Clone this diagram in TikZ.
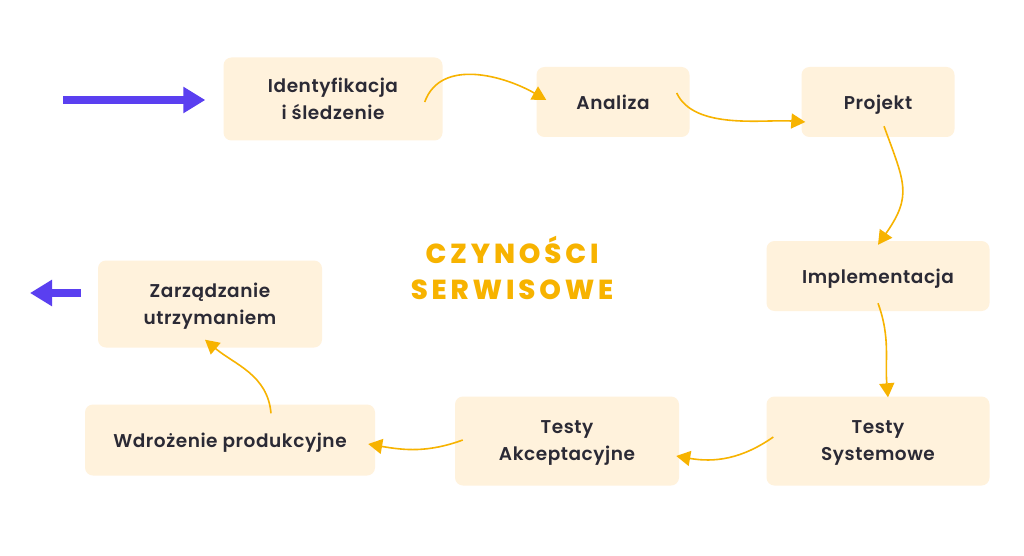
\documentclass[tikz,border=0pt]{standalone}
\usepackage{fontspec}
\setmainfont{Poppins}
\newfontfamily\boxfont{Poppins SemiBold}[LetterSpace=3]
\newfontfamily\titlefont{Poppins ExtraBold}[LetterSpace=14]
\usetikzlibrary{arrows.meta, positioning, calc}
\definecolor{boxfill}{HTML}{FFF2DC}
\definecolor{inkdark}{HTML}{2B2A35}
\definecolor{amber}{HTML}{F7B300}
\definecolor{violet}{HTML}{5A3FF0}

\begin{document}
\begin{tikzpicture}[
  x=1pt, y=1pt,
  >={Triangle[length=14pt, width=15pt]},
  stagebox/.style={fill=boxfill, rounded corners=8pt, text=inkdark,
    font=\boxfont\fontsize{18.5}{27}\selectfont, align=center, inner sep=0pt,
    text depth=0pt},
  flow/.style={draw=amber, line width=1.6pt, ->},
  bigarrow/.style={draw=violet, line width=8pt,
    -{Triangle[length=22pt, width=25pt]}},
]

% Background
\fill[white] (0,0) rectangle (1024,-556);
\useasboundingbox (0,0) rectangle (1024,-556);

% Title
\node[font=\titlefont\fontsize{27.5}{36}\selectfont, text=amber, align=center]
  (title) at (512,-268) {CZYNOŚCI\\SERWISOWE};

% === Top row ===
\node[stagebox, minimum width=219pt, minimum height=83pt] (ident) at (333,-99)
  {Identyfikacja\\i śledzenie};
\node[stagebox, minimum width=153pt, minimum height=70pt] (analiza) at (613,-102)
  {Analiza};
\node[stagebox, minimum width=153pt, minimum height=70pt] (projekt) at (878,-102)
  {Projekt};

% === Right column ===
\node[stagebox, minimum width=223pt, minimum height=70pt] (impl) at (878,-276)
  {Implementacja};
\node[stagebox, minimum width=223pt, minimum height=89pt] (testsys) at (878,-441)
  {Testy\\Systemowe};

% === Bottom row ===
\node[stagebox, minimum width=224pt, minimum height=89pt] (testakc) at (567,-441)
  {Testy\\Akceptacyjne};
\node[stagebox, minimum width=290pt, minimum height=71pt] (wdroz) at (230,-440)
  {Wdrożenie produkcyjne};
\node[stagebox, minimum width=224pt, minimum height=87pt] (zarz) at (210,-304)
  {Zarządzanie\\utrzymaniem};

% Entry / exit
\coordinate (entry) at (63,-100);
\coordinate (exit) at (30,-293);
\draw[bigarrow, shorten >=18pt] (entry) -- (ident.west |- entry);
\draw[bigarrow, shorten <=17pt] (zarz.west |- exit) -- (exit);

% === Flow ===
\draw[flow] ($(ident.east)+(-18,-3)$) to[out=70, in=150] ($(analiza.west)+(10,2)$);
\draw[flow] ($(analiza.east)+(-13,9)$) to[out=-65, in=176, looseness=0.8] ($(projekt.west)+(4,-20)$);
\draw[flow] ($(projekt.south)+(6,11)$) to[out=-70, in=55, looseness=1.3] ($(impl.north)+(0,-4)$);
\draw[flow] ($(impl.south)+(0,8)$) to[out=-70, in=95] ($(testsys.north)+(10,-1)$);
\draw[flow] ($(testsys.west)+(7,4)$) to[out=-145, in=-10] ($(testakc.east)+(-3,-15)$);
\draw[flow] ($(testakc.west)+(8,1)$) to[out=-160, in=-10] ($(wdroz.east)+(-7,-4)$);
\draw[flow] ($(wdroz.north)+(41,-9)$) to[out=95, in=-40] ($(zarz.south)+(-5,8)$);

\end{tikzpicture}
\end{document}
